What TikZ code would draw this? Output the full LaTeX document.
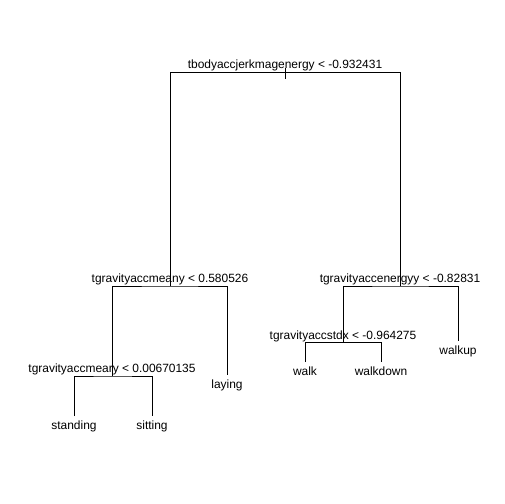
\documentclass[tikz,border=0pt]{standalone}
\usepackage{fontspec}
\setmainfont{Liberation Sans}
\begin{document}
\begin{tikzpicture}[x=1bp,y=-1bp,line width=0.8bp,
    splitlabel/.style={anchor=base,inner sep=0pt,font=\fontsize{12}{14}\selectfont},
    leaflabel/.style={anchor=north,inner sep=0pt,font=\fontsize{12}{14}\selectfont}]
  \useasboundingbox (0,0) rectangle (504,504);

  % Parameters definitions
  \def\labelup{3.5} % Gap between bar and label baseline
  \def\leafgap{4.5} % Gap between leaf end and leaf label

  % Split nodes (x, y of the bar)
  \coordinate (root) at (285,72.5);
  \coordinate (meany) at (170,286);
  \coordinate (energyy) at (400,286);
  \coordinate (stdx) at (343,342.5);
  \coordinate (meanz) at (112,376);

  % Leaves (x, y of the line end)
  \coordinate (standing) at (74,416);
  \coordinate (sitting) at (152,416);
  \coordinate (laying) at (227,375);
  \coordinate (walk) at (305,362);
  \coordinate (walkdown) at (381,362);
  \coordinate (walkup) at (458,341);

  % Branches
  \draw (meany) |- (root) -| (energyy);
  \draw (meanz) |- (meany) -| (laying);
  \draw (standing) |- (meanz) -| (sitting);
  \draw (stdx) |- (energyy) -| (walkup);
  \draw (walk) |- (stdx) -| (walkdown);
  \draw ([yshift=4.5bp]root) -- ([yshift=-6.5bp]root);

  % Split labels
  \node[splitlabel] (rootlab) at ([yshift=\labelup bp]root) {tbodyaccjerkmagenergy < -0.932431};
  \node[splitlabel] (meanylab) at ([yshift=\labelup bp]meany) {tgravityaccmeany < 0.580526};
  \node[splitlabel] (energyylab) at ([yshift=\labelup bp]energyy) {tgravityaccenergyy < -0.82831};
  \node[splitlabel] (stdxlab) at ([yshift=\labelup bp]stdx) {tgravityaccstdx < -0.964275};
  \node[splitlabel] (meanzlab) at ([yshift=\labelup bp]meanz) {tgravityaccmeary < 0.00670135};

  % Leaf labels
  \foreach \leaf in {standing,sitting,laying,walk,walkdown,walkup}
    \node[leaflabel] (\leaf lab) at ([yshift=-\leafgap bp]\leaf) {\leaf};
\end{tikzpicture}
\end{document}
